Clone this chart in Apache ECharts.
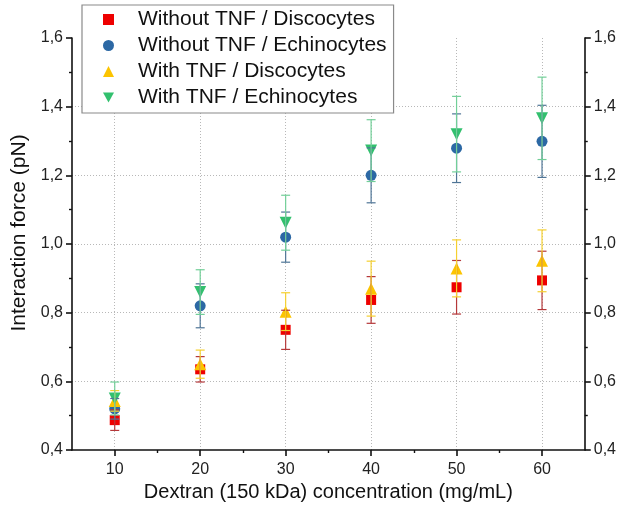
<!DOCTYPE html>
<html>
<head>
<meta charset="utf-8">
<script src="https://cdn.jsdelivr.net/npm/echarts@6/dist/echarts.min.js"></script>
<style>
  html, body { margin: 0; padding: 0; background: #fff; }
  #chart { width: 619px; height: 512px; }
</style>
</head>
<body>
<div id="chart"></div>
<script>
// concentrations (mg/mL)
var conc = [10, 20, 30, 40, 50, 60];
var xTicks = [10, 20, 30, 40, 50, 60];
var xMinorTicks = [15, 25, 35, 45, 55];

// interaction force (pN) and error
var noTnfDisco = [0.487, 0.635, 0.750, 0.837, 0.874, 0.894];
var noTnfDiscoErr = [0.030, 0.037, 0.057, 0.068, 0.078, 0.085];
var noTnfEchino = [0.520, 0.820, 1.020, 1.200, 1.279, 1.299];
var noTnfEchinoErr = [0.030, 0.064, 0.073, 0.080, 0.100, 0.105];
var tnfDisco = [0.543, 0.650, 0.803, 0.870, 0.929, 0.951];
var tnfDiscoErr = [0.030, 0.041, 0.055, 0.080, 0.083, 0.090];
var tnfEchino = [0.550, 0.860, 1.062, 1.272, 1.320, 1.366];
var tnfEchinoErr = [0.048, 0.065, 0.080, 0.090, 0.110, 0.120];

var chart = echarts.init(document.getElementById('chart'));
var font = 'Liberation Sans, Arial, sans-serif';
var downTriangle = 'path://M0,0 L10,0 L5,9 Z';

function points(ys) {
  return conc.map(function (x, i) { return [x, ys[i]]; });
}

function errorSeries(ys, errs, color) {
  return {
    type: 'custom',
    z: 5,
    silent: true,
    data: conc.map(function (x, i) { return [x, ys[i] - errs[i], ys[i] + errs[i]]; }),
    renderItem: function (params, api) {
      var lo = api.coord([api.value(0), api.value(1)]);
      var hi = api.coord([api.value(0), api.value(2)]);
      var w = 4.5;
      var style = { stroke: color, lineWidth: 1.2 };
      return {
        type: 'group',
        children: [
          { type: 'line', shape: { x1: lo[0], y1: lo[1], x2: hi[0], y2: hi[1] }, style: style },
          { type: 'line', shape: { x1: lo[0] - w, y1: lo[1], x2: lo[0] + w, y2: lo[1] }, style: style },
          { type: 'line', shape: { x1: hi[0] - w, y1: hi[1], x2: hi[0] + w, y2: hi[1] }, style: style }
        ]
      };
    },
    encode: { x: 0, y: [1, 2] }
  };
}

function fmt(v) { return v.toFixed(1).replace('.', ','); }

var yCommon = {
  type: 'value',
  min: 0.4,
  max: 1.6,
  interval: 0.2,
  axisLine: { show: true, lineStyle: { color: '#111', width: 1.6 } },
  axisTick: { show: true, inside: false, length: 6, lineStyle: { color: '#111', width: 1.6 } },
  minorTick: { show: true, splitNumber: 2, length: 3, lineStyle: { color: '#111', width: 1.4 } },
  axisLabel: { fontFamily: font, fontSize: 16, color: '#222', formatter: fmt }
};

chart.setOption({
  animation: false,
  backgroundColor: '#fff',
  grid: { left: 72, right: 34, top: 38, bottom: 62 },
  legend: {
    left: 82,
    top: 5,
    orient: 'vertical',
    backgroundColor: '#fff',
    borderColor: '#8a8a8a',
    borderWidth: 1.2,
    padding: [4, 7, 5, 21],
    itemWidth: 11,
    itemHeight: 11,
    itemGap: 5,
    textStyle: { fontFamily: font, fontSize: 21, color: '#111', padding: [0, 0, 0, 19] },
    data: [
      { name: 'Without TNF / Discocytes' },
      { name: 'Without TNF / Echinocytes' },
      { name: 'With TNF / Discocytes' },
      { name: 'With TNF / Echinocytes', icon: downTriangle }
    ]
  },
  xAxis: [
    {
      type: 'value',
      min: 5,
      max: 65,
      position: 'bottom',
      name: 'Dextran (150 kDa) concentration (mg/mL)',
      nameLocation: 'middle',
      nameGap: 29,
      nameTextStyle: { fontFamily: font, fontSize: 20, color: '#111' },
      axisLine: { show: true, lineStyle: { color: '#111', width: 1.6 } },
      axisTick: { show: true, customValues: xTicks, length: 6, lineStyle: { color: '#111', width: 1.6 } },
      axisLabel: { customValues: xTicks, fontFamily: font, fontSize: 16, color: '#222', margin: 12 },
      splitLine: { show: true, lineStyle: { type: [1, 2], color: '#b8b8b8', width: 1 } }
    },
    {
      type: 'value',
      min: 5,
      max: 65,
      position: 'bottom',
      axisLine: { show: false },
      axisTick: { show: true, customValues: xMinorTicks, length: 3, lineStyle: { color: '#111', width: 1.4 } },
      axisLabel: { show: false },
      splitLine: { show: false }
    }
  ],
  yAxis: [
    Object.assign({}, yCommon, {
      position: 'left',
      name: 'Interaction force (pN)',
      nameLocation: 'middle',
      nameGap: 40,
      nameTextStyle: { fontFamily: font, fontSize: 21, color: '#111', padding: [0, 0, 0, 22] },
      axisLabel: Object.assign({}, yCommon.axisLabel, { margin: 9 }),
      splitLine: { show: true, showMaxLine: false, showMinLine: false, lineStyle: { type: [1, 2], color: '#b8b8b8', width: 1 } }
    }),
    Object.assign({}, yCommon, {
      position: 'right',
      axisLabel: Object.assign({}, yCommon.axisLabel, { margin: 9 }),
      splitLine: { show: false }
    })
  ],
  series: [
    {
      name: 'Without TNF / Discocytes', type: 'scatter', symbol: 'rect', symbolSize: 10,
      itemStyle: { color: '#ee0000', opacity: 1 }, data: points(noTnfDisco), z: 3
    },
    {
      name: 'Without TNF / Echinocytes', type: 'scatter', symbol: 'circle', symbolSize: 11,
      itemStyle: { color: '#2c68a4', opacity: 1 }, data: points(noTnfEchino), z: 3
    },
    {
      name: 'With TNF / Discocytes', type: 'scatter', symbol: 'triangle', symbolSize: 12,
      itemStyle: { color: '#fcc400', opacity: 1 }, data: points(tnfDisco), z: 3
    },
    {
      name: 'With TNF / Echinocytes', type: 'scatter', symbol: 'triangle', symbolRotate: 180, symbolSize: 12,
      itemStyle: { color: '#32c06e', opacity: 1 }, data: points(tnfEchino), z: 3
    },
    errorSeries(noTnfDisco, noTnfDiscoErr, '#b5383a'),
    errorSeries(noTnfEchino, noTnfEchinoErr, '#4f7596'),
    errorSeries(tnfDisco, tnfDiscoErr, '#f5d030'),
    errorSeries(tnfEchino, tnfEchinoErr, '#72cf98')
  ]
});
</script>
</body>
</html>
